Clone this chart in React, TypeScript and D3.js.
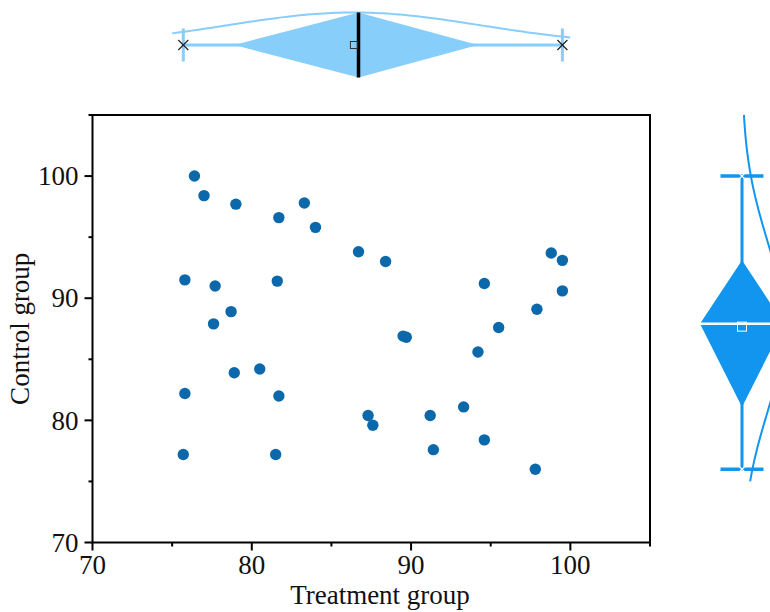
import React from 'react';
import * as d3 from 'd3';

// Treatment (x) and control (y) values
const treatment = [76.4, 77.0, 79.0, 81.7, 83.3, 84.0, 86.7, 88.4, 75.8, 77.7, 81.6, 78.7, 77.6, 89.5, 89.7, 78.9, 80.5, 75.8, 81.7, 87.3, 87.6, 75.7, 81.5, 98.8, 99.5, 94.6, 99.5, 97.9, 95.5, 94.2, 93.3, 91.2, 94.6, 91.4, 97.8];
const control = [100.0, 98.4, 97.7, 96.6, 97.8, 95.8, 93.8, 93.0, 91.5, 91.0, 91.4, 88.9, 87.9, 86.9, 86.8, 83.9, 84.2, 82.2, 82.0, 80.4, 79.6, 77.2, 77.2, 93.7, 93.1, 91.2, 90.6, 89.1, 87.6, 85.6, 81.1, 80.4, 78.4, 77.6, 76.0];

const majorTicks = [70, 80, 90, 100];
const minorTicks = [75, 85, 95, 105];
const curveRangeX = [75, 100];
const curveRangeY = [75, 105];

const W = 770;
const H = 612;
const font = "'Liberation Serif', 'Times New Roman', serif";

const dotColor = '#0b69ab';
const topColor = '#87cefa';
const rightColor = '#1195ef';

function stats(values: number[]) {
  const s = [...values].sort(d3.ascending);
  const n = s.length;
  const q = (p: number) => {
    const pos = (n + 1) * p - 1;
    const i = Math.max(0, Math.min(n - 1, Math.floor(pos)));
    const j = Math.min(n - 1, i + 1);
    const f = pos - Math.floor(pos);
    return s[i] + f * (s[j] - s[i]);
  };
  return {
    min: s[0], max: s[n - 1],
    q1: q(0.25), med: q(0.5), q3: q(0.75),
    mean: d3.mean(s) as number, sd: d3.deviation(s) as number,
  };
}

const Cross = ({ cx, cy, r, color }: any) => (
  <g stroke={color} strokeWidth={1.2}>
    <line x1={cx - r} y1={cy - r} x2={cx + r} y2={cy + r} />
    <line x1={cx - r} y1={cy + r} x2={cx + r} y2={cy - r} />
  </g>
);

export default function App() {
  const x = d3.scaleLinear().domain([70, 105]).range([92.5, 650]);
  const y = d3.scaleLinear().domain([70, 105]).range([542.5, 115]);

  const sx = stats(treatment);
  const sy = stats(control);

  // top marginal box (horizontal)
  const cy = 45, half = 32.5, capH = 16.5;
  const topCurvePts = d3.range(curveRangeX[0], curveRangeX[1] + 0.001, 0.25).map(v => [
    x(v), cy - half * Math.exp(-((v - sx.mean) ** 2) / (2 * sx.sd * sx.sd)),
  ] as [number, number]);

  // right marginal box (vertical)
  const cx = 742, halfR = 42, capR = 21.5;
  const rightCurvePts = d3.range(curveRangeY[0], curveRangeY[1] + 0.001, 0.25).map(v => [
    cx + halfR * Math.exp(-((v - sy.mean) ** 2) / (2 * sy.sd * sy.sd)), y(v),
  ] as [number, number]);

  const line = d3.line();

  const [x0, x1] = x.range();
  const [y0, y1] = y.range();

  return (
    <svg width={W} height={H} style={{ position: 'absolute', left: 0, top: 0, background: '#fff' }}
      fontFamily={font}>
      {/* top marginal */}
      <g>
        <line x1={x(sx.min)} x2={x(sx.max)} y1={cy} y2={cy} stroke={topColor} strokeWidth={3} />
        <line x1={x(sx.min)} x2={x(sx.min)} y1={cy - capH} y2={cy + capH} stroke={topColor} strokeWidth={3} />
        <line x1={x(sx.max)} x2={x(sx.max)} y1={cy - capH} y2={cy + capH} stroke={topColor} strokeWidth={3} />
        <path d={`M${x(sx.q1)},${cy} L${x(sx.med)},${cy - half} L${x(sx.q3)},${cy} L${x(sx.med)},${cy + half} Z`} fill={topColor} />
        <path d={line(topCurvePts) as string} fill="none" stroke={topColor} strokeWidth={2} />
        <line x1={x(sx.med)} x2={x(sx.med)} y1={cy - half} y2={cy + half} stroke="#000" strokeWidth={3.5} />
        <rect x={x(sx.mean) - 3.5} y={cy - 3.5} width={7} height={7} fill="none" stroke="#333" strokeWidth={1} />
        <Cross cx={x(sx.min)} cy={cy} r={5} color="#222" />
        <Cross cx={x(sx.max)} cy={cy} r={5} color="#222" />
      </g>

      {/* right marginal */}
      <g>
        <line y1={y(sy.min)} y2={y(sy.max)} x1={cx} x2={cx} stroke={rightColor} strokeWidth={3} />
        <line y1={y(sy.min)} y2={y(sy.min)} x1={cx - capR} x2={cx + capR} stroke={rightColor} strokeWidth={3.5} />
        <line y1={y(sy.max)} y2={y(sy.max)} x1={cx - capR} x2={cx + capR} stroke={rightColor} strokeWidth={3.5} />
        <path d={`M${cx},${y(sy.q1)} L${cx - halfR},${y(sy.med)} L${cx},${y(sy.q3)} L${cx + halfR},${y(sy.med)} Z`} fill={rightColor} />
        <path d={line(rightCurvePts) as string} fill="none" stroke={rightColor} strokeWidth={2} />
        <line y1={y(sy.med)} y2={y(sy.med)} x1={cx - halfR} x2={cx + halfR} stroke="#fff" strokeWidth={2.5} />
        <rect x={cx - 4.5} y={y(sy.mean) - 4.5} width={9} height={9} fill="none" stroke="#fff" strokeWidth={1} />
        <Cross cx={cx} cy={y(sy.min)} r={3} color="#fff" />
        <Cross cx={cx} cy={y(sy.max)} r={3} color="#fff" />
      </g>

      {/* scatter */}
      <g>
        {treatment.map((t, i) => (
          <circle key={i} cx={x(t)} cy={y(control[i])} r={5.7} fill={dotColor} />
        ))}
      </g>

      {/* frame */}
      <rect x={x0} y={y1} width={x1 - x0} height={y0 - y1} fill="none" stroke="#000" strokeWidth={2} />

      {/* ticks */}
      <g stroke="#000" strokeWidth={2}>
        {majorTicks.map(t => <line key={'xm' + t} x1={x(t)} x2={x(t)} y1={y0} y2={y0 + 8} />)}
        {minorTicks.map(t => <line key={'xn' + t} x1={x(t)} x2={x(t)} y1={y0} y2={y0 + 4} />)}
        {majorTicks.map(t => <line key={'ym' + t} x1={x0} x2={x0 - 8} y1={y(t)} y2={y(t)} />)}
        {minorTicks.map(t => <line key={'yn' + t} x1={x0} x2={x0 - 4} y1={y(t)} y2={y(t)} />)}
      </g>
      <g fontSize={27} fill="#111">
        {majorTicks.map(t => (
          <text key={'xl' + t} x={x(t)} y={y0 + 31} textAnchor="middle">{t}</text>
        ))}
        {majorTicks.map(t => (
          <text key={'yl' + t} x={x0 - 14} y={y(t)} dy="0.34em" textAnchor="end">{t}</text>
        ))}
      </g>
      <text x={380} y={604} textAnchor="middle" fontSize={27} fill="#111">Treatment group</text>
      <text transform={`translate(29,${(y0 + y1) / 2}) rotate(-90)`} textAnchor="middle" fontSize={27} fill="#111">Control group</text>
    </svg>
  );
}
